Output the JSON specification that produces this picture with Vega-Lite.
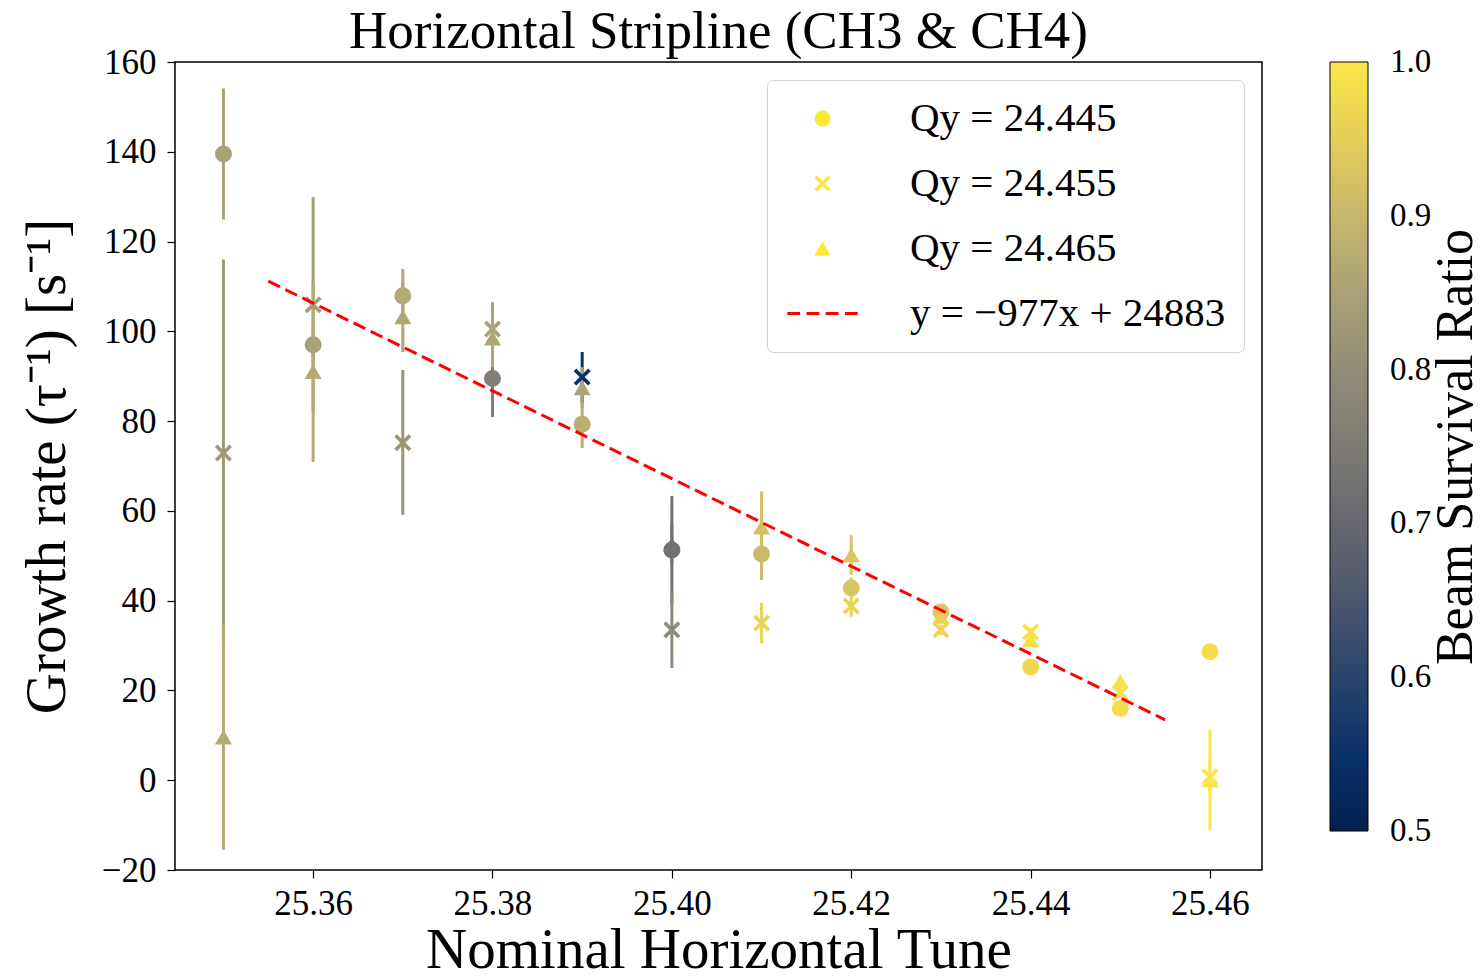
{
  "$schema": "https://vega.github.io/schema/vega-lite/v6.json",
  "width": 1087,
  "height": 808,
  "autosize": "none",
  "padding": {"left": 175, "top": 62, "right": 220, "bottom": 107},
  "background": "white",
  "title": {"text": "Horizontal Stripline (CH3 & CH4)", "fontSize": 53, "font": "Liberation Serif", "fontWeight": "normal", "offset": -14, "anchor": "middle", "color": "black"},
  "datasets": {
    "points": [
      {"tune": 25.35, "series": "Qy = 24.445", "rate": 139.5, "lo": 124.9, "hi": 154.1, "ratio": 0.85},
      {"tune": 25.35, "series": "Qy = 24.455", "rate": 72.9, "lo": 30.0, "hi": 116.0, "ratio": 0.83},
      {"tune": 25.35, "series": "Qy = 24.465", "rate": 9.6, "lo": -15.5, "hi": 34.7, "ratio": 0.87},
      {"tune": 25.36, "series": "Qy = 24.445", "rate": 97.0, "lo": 93.0, "hi": 101.0, "ratio": 0.85},
      {"tune": 25.36, "series": "Qy = 24.455", "rate": 105.9, "lo": 82.0, "hi": 129.9, "ratio": 0.84},
      {"tune": 25.36, "series": "Qy = 24.465", "rate": 91.0, "lo": 70.9, "hi": 111.0, "ratio": 0.87},
      {"tune": 25.37, "series": "Qy = 24.445", "rate": 107.9, "lo": 101.9, "hi": 113.9, "ratio": 0.87},
      {"tune": 25.37, "series": "Qy = 24.455", "rate": 75.2, "lo": 59.1, "hi": 91.4, "ratio": 0.82},
      {"tune": 25.37, "series": "Qy = 24.465", "rate": 103.2, "lo": 95.4, "hi": 111.0, "ratio": 0.86},
      {"tune": 25.38, "series": "Qy = 24.445", "rate": 89.5, "lo": 80.9, "hi": 98.1, "ratio": 0.76},
      {"tune": 25.38, "series": "Qy = 24.455", "rate": 100.5, "lo": 95.0, "hi": 106.5, "ratio": 0.85},
      {"tune": 25.38, "series": "Qy = 24.465", "rate": 98.5, "lo": 92.0, "hi": 105.0, "ratio": 0.86},
      {"tune": 25.39, "series": "Qy = 24.445", "rate": 79.3, "lo": 74.0, "hi": 84.6, "ratio": 0.88},
      {"tune": 25.39, "series": "Qy = 24.455", "rate": 89.8, "lo": 84.2, "hi": 95.4, "ratio": 0.55},
      {"tune": 25.39, "series": "Qy = 24.465", "rate": 87.4, "lo": 83.0, "hi": 92.0, "ratio": 0.86},
      {"tune": 25.40, "series": "Qy = 24.445", "rate": 51.3, "lo": 39.3, "hi": 63.3, "ratio": 0.72},
      {"tune": 25.40, "series": "Qy = 24.455", "rate": 33.5, "lo": 25.0, "hi": 42.0, "ratio": 0.79},
      {"tune": 25.40, "series": "Qy = 24.465", "rate": 52.5, "lo": 48.0, "hi": 57.0, "ratio": 0.73},
      {"tune": 25.41, "series": "Qy = 24.445", "rate": 50.4, "lo": 44.6, "hi": 56.2, "ratio": 0.91},
      {"tune": 25.41, "series": "Qy = 24.455", "rate": 35.0, "lo": 30.5, "hi": 39.5, "ratio": 0.96},
      {"tune": 25.41, "series": "Qy = 24.465", "rate": 56.4, "lo": 48.5, "hi": 64.3, "ratio": 0.92},
      {"tune": 25.42, "series": "Qy = 24.445", "rate": 42.8, "lo": 40.5, "hi": 45.1, "ratio": 0.93},
      {"tune": 25.42, "series": "Qy = 24.455", "rate": 38.8, "lo": 36.4, "hi": 41.2, "ratio": 0.96},
      {"tune": 25.42, "series": "Qy = 24.465", "rate": 50.2, "lo": 45.8, "hi": 54.6, "ratio": 0.93},
      {"tune": 25.43, "series": "Qy = 24.445", "rate": 37.5, "lo": 36.0, "hi": 39.0, "ratio": 0.94},
      {"tune": 25.43, "series": "Qy = 24.455", "rate": 33.5, "lo": 32.3, "hi": 34.7, "ratio": 0.96},
      {"tune": 25.43, "series": "Qy = 24.465", "rate": 36.5, "lo": 35.0, "hi": 38.0, "ratio": 0.96},
      {"tune": 25.44, "series": "Qy = 24.445", "rate": 25.2, "lo": 24.5, "hi": 25.9, "ratio": 0.97},
      {"tune": 25.44, "series": "Qy = 24.455", "rate": 33.0, "lo": 32.0, "hi": 34.0, "ratio": 0.99},
      {"tune": 25.44, "series": "Qy = 24.465", "rate": 31.3, "lo": 30.3, "hi": 32.3, "ratio": 0.99},
      {"tune": 25.45, "series": "Qy = 24.445", "rate": 16.0, "lo": 15.5, "hi": 16.5, "ratio": 0.98},
      {"tune": 25.45, "series": "Qy = 24.455", "rate": 19.5, "lo": 18.5, "hi": 20.5, "ratio": 0.99},
      {"tune": 25.45, "series": "Qy = 24.465", "rate": 22.0, "lo": 21.0, "hi": 23.0, "ratio": 0.99},
      {"tune": 25.46, "series": "Qy = 24.445", "rate": 28.6, "lo": 28.0, "hi": 29.2, "ratio": 0.98},
      {"tune": 25.46, "series": "Qy = 24.455", "rate": 0.8, "lo": -3.0, "hi": 4.6, "ratio": 1.0},
      {"tune": 25.46, "series": "Qy = 24.465", "rate": 0.0, "lo": -11.1, "hi": 11.2, "ratio": 1.0}
    ],
    "fit": [
      {"tune": 25.355, "rate": 111.165},
      {"tune": 25.455, "rate": 13.465}
    ]
  },
  "resolve": {"legend": {"color": "independent"}},
  "layer": [
    {
      "data": {"name": "points"},
      "mark": {"type": "rule", "strokeWidth": 3},
      "encoding": {
        "x": {"field": "tune", "type": "quantitative",
              "scale": {"domain": [25.3446, 25.4658], "nice": false, "zero": false},
              "axis": {"values": [25.36, 25.38, 25.40, 25.42, 25.44, 25.46], "format": ".2f", "title": "Nominal Horizontal Tune", "labelPadding": 8, "titlePadding": 1}},
        "y": {"field": "lo", "type": "quantitative",
              "scale": {"domain": [-20, 160], "nice": false, "zero": false},
              "axis": {"values": [-20, 0, 20, 40, 60, 80, 100, 120, 140, 160], "title": "Growth rate (τ⁻¹) [s⁻¹]", "titlePadding": 25, "labelPadding": 11}},
        "y2": {"field": "hi"},
        "color": {"field": "ratio", "type": "quantitative",
                  "scale": {"scheme": "cividis", "domain": [0.5, 1.0], "clamp": true},
                  "legend": {"type": "gradient", "orient": "right", "offset": 68, "direction": "vertical", "gradientLength": 769, "gradientThickness": 38,
                             "gradientStrokeColor": "black", "gradientStrokeWidth": 1,
                             "values": [0.5, 0.6, 0.7, 0.8, 0.9, 1.0], "format": ".1f",
                             "labelFontSize": 33, "labelOffset": 22, "labelOverlap": false, "labelBaseline": "middle",
                             "title": "Beam Survival Ratio", "titleOrient": "right", "titleFontSize": 52, "titleFontWeight": "normal",
                             "titlePadding": 0, "titleAnchor": "middle", "titleAlign": "center", "titleBaseline": "top", "titleLimit": 1000,
                             "encode": {"title": {"update": {"angle": {"value": -90}}},
                                        "labels": {"update": {"baseline": {"value": "middle"}}}}}}
      }
    },
    {
      "data": {"name": "points"},
      "mark": {"type": "point", "filled": true, "size": 289, "opacity": 1, "strokeWidth": 0},
      "encoding": {
        "x": {"field": "tune", "type": "quantitative"},
        "y": {"field": "rate", "type": "quantitative"},
        "color": {"field": "ratio", "type": "quantitative", "legend": null},
        "stroke": {"field": "series", "type": "nominal",
                   "scale": {"domain": ["Qy = 24.445", "Qy = 24.455", "Qy = 24.465", "y = −977x + 24883"],
                             "range": ["transparent", "transparent", "transparent", "#ff0000"]},
                   "legend": {"type": "symbol", "orient": "top-right", "offset": 18, "title": null, "padding": 18,
                              "strokeColor": "#d0d0d0", "fillColor": "white", "cornerRadius": 6,
                              "labelFontSize": 41, "labelFont": "Liberation Serif", "labelLimit": 600,
                              "symbolSize": 256, "symbolOffset": 17, "labelOffset": 67, "rowPadding": 23,
                              "symbolFillColor": "#fde737", "symbolStrokeWidth": 3, "symbolOpacity": 1}},
        "shape": {"field": "series", "type": "nominal",
                  "scale": {"domain": ["Qy = 24.445", "Qy = 24.455", "Qy = 24.465", "y = −977x + 24883"],
                            "range": ["circle", "M-1,-0.7L-0.7,-1L0,-0.3L0.7,-1L1,-0.7L0.3,0L1,0.7L0.7,1L0,0.3L-0.7,1L-1,0.7L-0.3,0Z", "triangle-up",
                                      "M-4.4,0H-2.8M-2.0,0H-0.4M0.4,0H2.0M2.8,0H4.4"]},
                  "legend": {"type": "symbol", "orient": "top-right", "offset": 18, "title": null, "padding": 18,
                             "strokeColor": "#d0d0d0", "fillColor": "white", "cornerRadius": 6,
                             "labelFontSize": 41, "labelFont": "Liberation Serif", "labelLimit": 600,
                             "symbolSize": 256, "symbolOffset": 17, "labelOffset": 67, "rowPadding": 23,
                             "symbolFillColor": "#fde737", "symbolStrokeWidth": 3, "symbolOpacity": 1}}
      }
    },
    {
      "data": {"name": "fit"},
      "mark": {"type": "line", "color": "#ff0000", "strokeDash": [13, 6], "strokeWidth": 3},
      "encoding": {
        "x": {"field": "tune", "type": "quantitative"},
        "y": {"field": "rate", "type": "quantitative"}
      }
    }
  ],
  "config": {
    "font": "Liberation Serif",
    "view": {"stroke": "black", "strokeWidth": 1.5},
    "axis": {"labelFont": "Liberation Serif", "labelFontSize": 35, "labelColor": "black",
             "titleFont": "Liberation Serif", "titleFontSize": 57, "titleFontWeight": "normal", "titleColor": "black",
             "tickColor": "black", "tickSize": 8, "tickWidth": 1.2, "domain": false, "grid": false, "labelPadding": 6},
    "legend": {"labelFont": "Liberation Serif", "labelColor": "black", "titleFont": "Liberation Serif", "titleColor": "black"}
  }
}
